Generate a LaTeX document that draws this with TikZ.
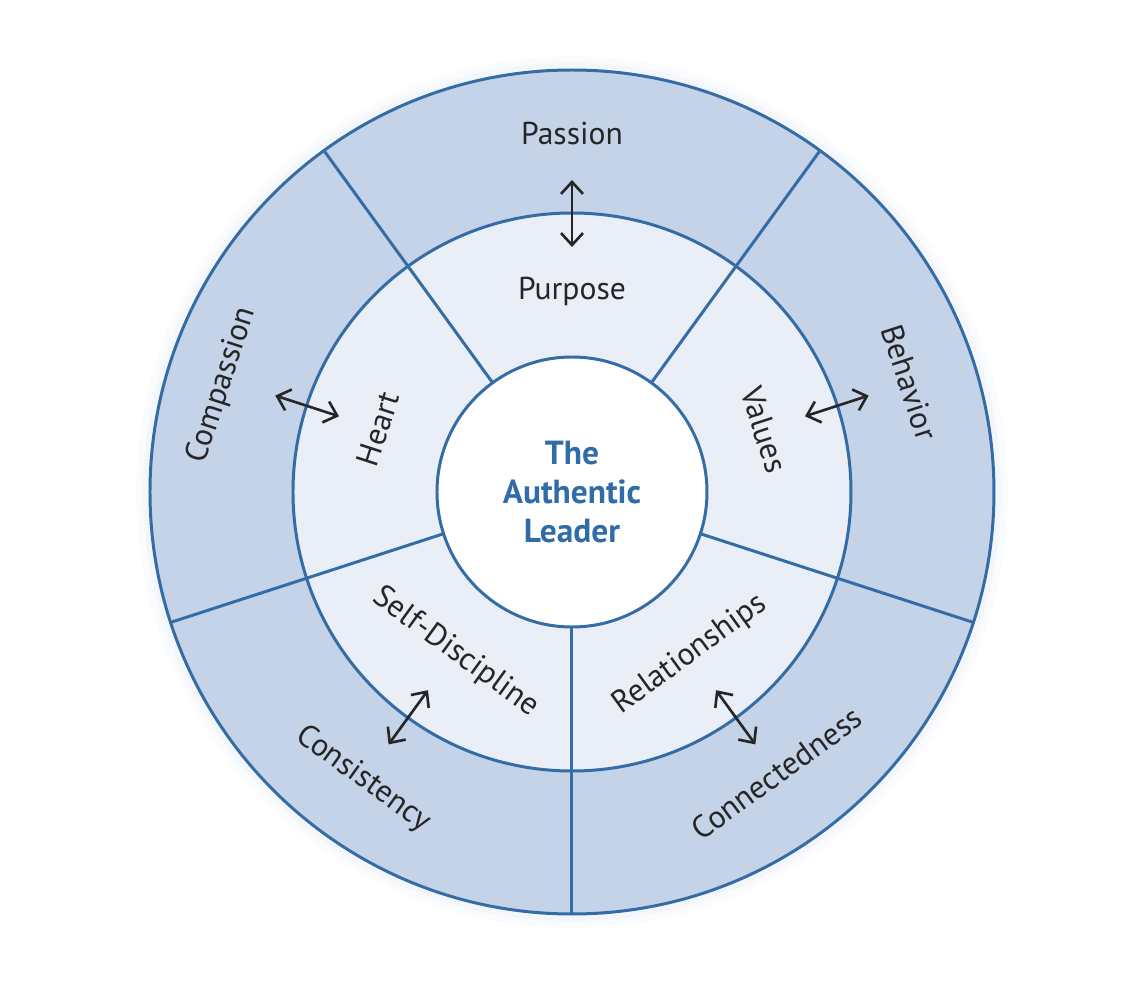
\documentclass[tikz,border=0pt]{standalone}
\usepackage{fontspec}
\setmainfont{PT Sans}
\usetikzlibrary{arrows.meta}
\definecolor{ringline}{RGB}{52,108,166}
\definecolor{outerfill}{RGB}{196,211,232}
\definecolor{innerfill}{RGB}{233,238,247}
\definecolor{leadertext}{RGB}{48,108,168}
\definecolor{haloA}{RGB}{250,251,253}
\definecolor{haloB}{RGB}{243,246,250}
\tikzset{
  ringlabel/.style={font=\fontsize{9}{11}\selectfont, text=black!85, inner sep=1pt},
  linkarrow/.style={{Straight Barb[length=1.2mm,width=2.2mm]}-{Straight Barb[length=1.2mm,width=2.2mm]}, line width=0.75pt, draw=black!85},
}
\begin{document}
\begin{tikzpicture}
	%%%%% START %%%%%
	\useasboundingbox (-5.72,-5.12) rectangle (5.64,4.92);
	
	% soft halo round the wheel
	\fill[haloA] (0,0) circle (4.36);
	\fill[haloB] (0,0) circle (4.29);
	
	% rings
	\draw[ringline, line width=0.85pt, fill=outerfill] (0,0) circle (4.22);
	\draw[ringline, line width=0.85pt, fill=innerfill] (0,0) circle (2.79);
	\foreach \a in {54,126,198,270,342}
		\draw[ringline, line width=0.85pt] (\a:1.35) -- (\a:4.22);
	\draw[ringline, line width=0.85pt, fill=white] (0,0) circle (1.35);
	
	% centre
	\node[font=\bfseries\fontsize{9.5}{11.2}\selectfont, text=leadertext, align=center] (leader) at (0,0) {The\\Authentic\\Leader};
	
	% inner ring
	\node[ringlabel] (purpose) at (90:2.01) {Purpose};
	\node[ringlabel, rotate=-72] (values) at (18:2.02) {Values};
	\node[ringlabel, rotate=36] (relationships) at (306:2.01) {Relationships};
	\node[ringlabel, rotate=-36] (selfdiscipline) at (234:1.98) {Self-Discipline};
	\node[ringlabel, rotate=72] (heart) at (162:2.04) {Heart};
	
	% outer ring
	\node[ringlabel] (passion) at (90:3.59) {Passion};
	\node[ringlabel, rotate=-72] (behavior) at (18:3.55) {Behavior};
	\node[ringlabel, rotate=36] (connectedness) at (306:3.48) {Connectedness};
	\node[ringlabel, rotate=-36] (consistency) at (234:3.55) {Consistency};
	\node[ringlabel, rotate=72] (compassion) at (163:3.66) {Compassion};
	
	% links between the rings
	\foreach \a in {90,18,306,234,162} {
		\coordinate (in\a) at (\a:2.45);
		\coordinate (out\a) at (\a:3.12);
		\draw[linkarrow] (in\a) -- (out\a);
	}
	%%%%% END %%%%%
\end{tikzpicture}
\end{document}
